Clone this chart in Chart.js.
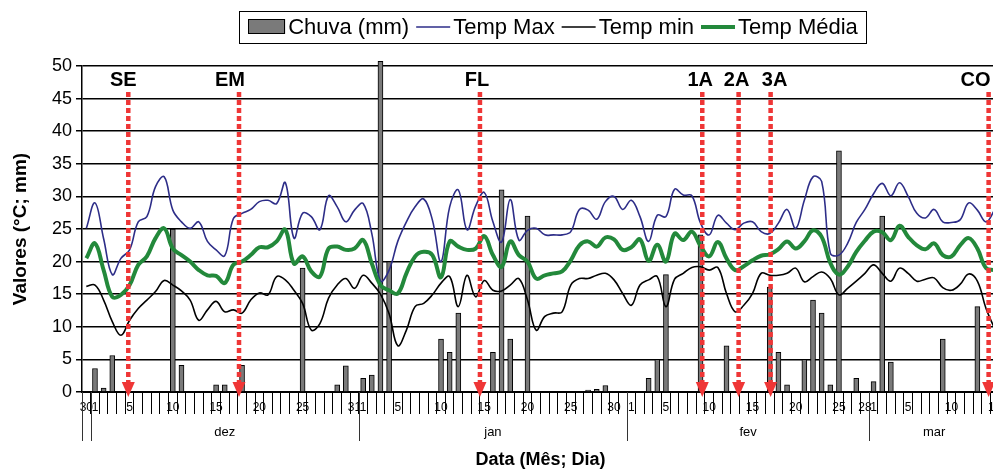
<!DOCTYPE html>
<html><head><meta charset="utf-8">
<script src="https://cdn.jsdelivr.net/npm/chart.js@4.4.1/dist/chart.umd.min.js"></script>
<style>
html,body{margin:0;padding:0;overflow:hidden;background:#fff;width:993px;height:471px}
canvas{position:absolute;left:0;top:0}
</style></head>
<body><canvas id="c" width="1010" height="471"></canvas>
<script>
// ---- DATA ----
const months = ['nov','dez','jan','fev','mar'];
const monthFirst = [30, 1, 1, 1, 1];
const monthLast  = [30, 31, 31, 28, 15];
const categories = [];
months.forEach((m, k) => { for (let d = monthFirst[k]; d <= monthLast[k]; d++) categories.push(d + '/' + m); });

const tickLabelDays = ['30/nov','1/dez','5/dez','10/dez','15/dez','20/dez','25/dez','31/dez',
  '1/jan','5/jan','10/jan','15/jan','20/jan','25/jan','30/jan',
  '1/fev','5/fev','10/fev','15/fev','20/fev','25/fev','28/fev',
  '1/mar','5/mar','10/mar','15/mar'];

const rain = [
 null,3.6,0.6,5.6,null,null,null,null,null,null,
 25,4.1,null,null,null,1.1,1.1,null,4.1,null,
 null,null,null,null,null,19,null,null,null,1.1,
 4.0,null,2.1,2.6,50.7,20,null,null,null,null,
 null,8.1,6.1,12.1,null,null,null,6.1,31,8.1,
 null,27,null,null,null,null,null,null,0.3,0.4,
 1.0,null,null,null,null,2.1,5.0,18,null,null,
 null,24.1,null,null,7.1,null,null,null,null,16.1,
 6.1,1.1,null,5.0,14.1,12.1,1.1,37,null,2.1,
 null,1.6,27,4.6,null,null,null,null,null,8.1,
 null,null,null,13.1,null,null];

const tmax = [
 25.1,29.0,23.5,18.0,20.5,21.8,26.1,26.9,31.5,33.0,
 27.9,26.1,25.1,26.1,23.1,21.8,20.9,26.6,27.4,28.0,
 29.2,29.4,28.9,32.1,23.6,27.4,26.9,24.9,30.1,28.4,
 26.1,27.9,28.9,24.3,17.0,18.7,23.1,26.1,28.4,29.6,
 26.4,20.0,28.4,31.0,24.9,28.5,30.6,26.1,23.0,29.5,
 23.3,24.8,25.1,24.1,24.1,24.1,24.6,28.0,27.9,26.5,
 29.2,30.0,28.0,29.4,26.9,23.1,27.1,26.9,31.1,30.2,
 30.1,25.9,24.1,27.1,25.9,24.9,25.9,26.1,24.6,24.3,
 25.9,28.0,25.1,29.4,33.0,32.3,21.3,21.0,22.8,26.0,
 28.0,30.4,32.0,30.1,32.1,30.0,27.4,26.7,28.0,26.1,
 26.0,26.4,29.0,27.9,26.1,27.9];

const tmin = [
 16.2,16.4,14.1,10.8,8.7,11.0,12.8,14.1,15.4,17.1,
 16.4,15.5,14.1,11.0,12.6,13.9,12.3,12.6,12.1,14.1,
 15.2,14.9,17.7,17.2,15.6,13.6,9.5,10.5,14.4,16.4,
 17.4,15.9,17.9,16.7,15.0,12.0,7.1,9.5,13.1,13.6,
 14.9,16.7,17.7,13.1,17.9,14.6,17.1,15.6,15.5,16.4,
 17.4,14.1,9.5,11.6,12.1,12.3,16.4,17.4,17.4,17.9,
 18.2,17.2,15.1,13.3,16.4,17.2,17.7,13.1,17.3,18.2,
 19.1,19.2,18.7,19.1,15.1,12.3,13.3,15.1,18.2,17.9,
 17.9,18.2,19.0,16.9,17.7,18.4,17.4,14.9,15.9,17.0,
 18.2,19.5,18.2,17.0,19.0,18.2,17.0,17.3,17.5,16.0,
 15.6,16.5,18.1,17.0,12.8,9.7];

const tmed = [
 20.5,22.8,18.7,14.6,14.9,16.4,19.5,20.8,23.6,25.1,
 22.0,21.0,20.0,18.7,17.9,17.8,16.7,19.5,20.0,21.0,
 22.2,22.2,23.1,24.9,19.7,20.8,18.5,17.7,22.0,22.3,
 21.8,22.0,23.3,19.7,16.4,15.6,15.1,18.2,20.8,21.5,
 21.0,17.6,23.1,22.3,21.8,22.0,23.9,21.0,19.2,23.1,
 21.0,20.0,17.4,17.9,18.2,18.5,20.2,22.5,23.1,22.3,
 23.7,23.4,21.8,22.2,23.4,20.1,22.6,20.0,24.3,23.3,
 24.6,22.4,20.8,23.0,20.5,18.7,19.3,20.2,20.9,21.1,
 21.9,23.1,22.0,23.1,24.8,23.8,19.8,18.0,19.2,21.5,
 23.2,24.6,24.5,23.3,25.5,23.8,22.5,21.9,22.8,21.0,
 20.8,22.5,23.6,22.0,19.0,18.7];

// phenological events (category index, fractional)
const eventLabels = ['SE','EM','FL','1A','2A','3A','CO'];
const eventPos    = [4.85, 17.65, 45.5, 71.2, 75.4, 79.1, 104.3];

const yTicks = [0,5,10,15,20,25,30,35,40,45,50];

// ---- STYLE ----
const FONT = '"Liberation Sans", Arial, Helvetica, sans-serif';
const eventLabelDx = [-5, -9, -3, -2, -2, 4, -13];
const RED = '#ef3636';

Chart.defaults.font.family = FONT;
Chart.defaults.color = '#000';

const decor = {
  id: 'decor',
  afterDatasetsDraw(chart) {
    const c = chart.ctx, xs = chart.scales.x;
    c.save();
    eventPos.forEach((p, k) => {
      const x = xs.getPixelForValue(p);
      c.strokeStyle = RED; c.lineWidth = 4.5; c.setLineDash([5, 3]);
      c.beginPath(); c.moveTo(x, 92); c.lineTo(x, 382); c.stroke();
      c.setLineDash([]);
      c.fillStyle = RED;
      c.beginPath(); c.moveTo(x - 6.5, 382); c.lineTo(x + 6.5, 382); c.lineTo(x, 397); c.closePath(); c.fill();
      c.fillStyle = '#000'; c.font = 'bold 20px ' + FONT;
      c.textAlign = 'center'; c.textBaseline = 'middle';
      c.fillText(eventLabels[k], x + eventLabelDx[k], 80);
    });
    c.restore();
  },
  afterDraw(chart) {
    const c = chart.ctx, xs = chart.scales.x, area = chart.chartArea;
    c.save();
    // month separators and labels
    let start = 0;
    months.forEach((m, k) => {
      const n = monthLast[k] - monthFirst[k] + 1;
      const x0 = xs.getPixelForValue(start - 0.5), x1 = xs.getPixelForValue(start + n - 0.5);
      c.strokeStyle = '#333'; c.lineWidth = 1;
      c.beginPath(); c.moveTo(Math.round(x0) + 0.5, area.bottom); c.lineTo(Math.round(x0) + 0.5, 441); c.stroke();
      if (n > 1) {
        c.fillStyle = '#000'; c.font = '13px ' + FONT; c.textAlign = 'center'; c.textBaseline = 'middle';
        c.fillText(m, (x0 + x1) / 2, 432);
      }
      start += n;
    });
    // legend
    const order = [3, 0, 1, 2];
    c.font = '22px ' + FONT; c.textBaseline = 'middle'; c.textAlign = 'left';
    const gapT = 3, gapI = 7;
    const pw = (ds) => ds.type === 'bar' ? 37 : 34;
    let total = 0;
    order.forEach((di, j) => { const ds = chart.data.datasets[di]; total += pw(ds) + gapT + c.measureText(ds.label).width + (j < 3 ? gapI : 0); });
    const bx0 = 239.5, bx1 = 866.5, by0 = 11.5, by1 = 43.5, cy = 27;
    c.strokeStyle = '#000'; c.lineWidth = 1;
    c.strokeRect(bx0, by0, bx1 - bx0, by1 - by0);
    let x = (bx0 + bx1) / 2 - total / 2;
    order.forEach((di) => {
      const ds = chart.data.datasets[di];
      const w = pw(ds);
      if (ds.type === 'bar') {
        c.fillStyle = ds.backgroundColor; c.fillRect(x, cy - 8, w, 15);
        c.strokeStyle = '#000'; c.lineWidth = 1; c.strokeRect(Math.round(x) + 0.5, cy - 7.5, w - 1, 14);
      } else {
        c.strokeStyle = ds.borderColor; c.lineWidth = ds.borderWidth;
        c.beginPath(); c.moveTo(x, cy); c.lineTo(x + w, cy); c.stroke();
      }
      x += w + gapT;
      c.fillStyle = '#000'; c.fillText(ds.label, x, cy + 1);
      x += c.measureText(ds.label).width + gapI;
    });
    c.restore();
  }
};

new Chart(document.getElementById('c'), {
  data: {
    labels: categories,
    datasets: [
      { type: 'line', label: 'Temp Max', data: tmax, borderColor: '#2d2d88', borderWidth: 1.6, pointRadius: 0, tension: 0.4, order: 2 },
      { type: 'line', label: 'Temp min', data: tmin, borderColor: '#000000', borderWidth: 1.6, pointRadius: 0, tension: 0.4, order: 1 },
      { type: 'line', label: 'Temp Média', data: tmed, borderColor: '#23893b', borderWidth: 4, pointRadius: 0, tension: 0.4, order: 0 },
      { type: 'bar', label: 'Chuva (mm)', data: rain, backgroundColor: '#7a7a7a', borderColor: '#000', borderWidth: 1, barThickness: 5, clip: false, order: 5 }
    ]
  },
  options: {
    responsive: false, animation: false, devicePixelRatio: 1,
    layout: { padding: { top: 66, right: 11, left: 0, bottom: 0 } },
    plugins: { legend: { display: false }, tooltip: { enabled: false } },
    scales: {
      x: {
        type: 'category', offset: true,
        grid: { drawOnChartArea: false, drawTicks: true, tickLength: 22, color: '#000', lineWidth: 1, offset: true },
        border: { display: true, color: '#000', width: 2 },
        ticks: {
          autoSkip: false, maxRotation: 0, minRotation: 0, padding: -14, font: { size: 12 }, color: '#000',
          callback: (v, i) => tickLabelDays.includes(categories[i]) ? categories[i].split('/')[0] : ''
        },
        title: { display: true, text: 'Data (Mês; Dia)', font: { size: 18, weight: 'bold' }, padding: { top: 0, bottom: 0 }, color: '#000' },
        afterFit: (s) => { s.height = 79; }
      },
      y: {
        min: 0, max: 50,
        afterBuildTicks: (s) => { s.ticks = yTicks.map(v => ({ value: v })); },
        ticks: { font: { size: 18 }, padding: 4, color: '#000' },
        grid: { color: '#000', lineWidth: 1.5, tickLength: 6, drawTicks: true },
        border: { color: '#000', width: 1.5 },
        title: { display: true, text: 'Valores (°C; mm)', font: { size: 19, weight: 'bold' }, padding: { top: 9, bottom: 0 }, color: '#000' },
        afterFit: (s) => { s.width = 82; }
      }
    }
  },
  plugins: [decor]
});
</script>
</body></html>
